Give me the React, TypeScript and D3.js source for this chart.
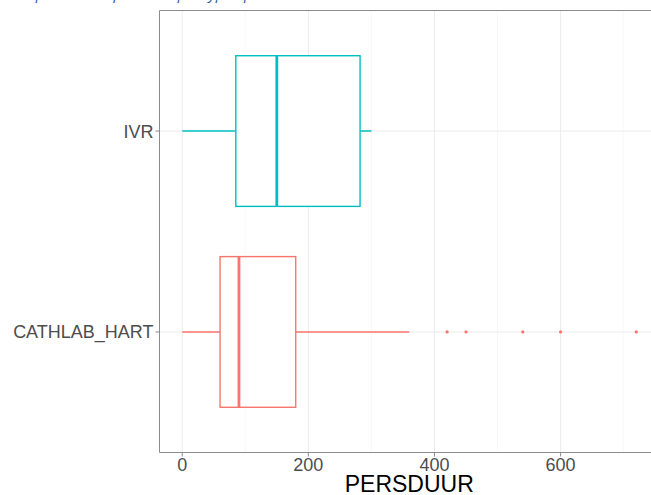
import React from "react";
import * as d3 from "d3";

const categories = ["CATHLAB_HART", "IVR"];
const mins = [0, 0];
const q1s = [60, 85];
const medians = [90, 150];
const q3s = [180, 282];
const maxs = [360, 300];
const outliers = [[420, 450, 540, 600, 720], []];
const colors = ["#F8766D", "#00BFC4"];
const xTicks = [0, 200, 400, 600];
const xMinor = [100, 300, 500, 700];
const captionText = "Afbeelding 7: Boxplot van de persduur per type opname";

const W = 651;
const H = 495;
const panel = { left: 159.5, top: 10.5, right: 659, bottom: 452.5 };

export default function App() {
  const x = d3.scaleLinear().domain([-36, 756]).range([panel.left, panel.right]);
  const y = d3.scaleLinear().domain([0.4, 2.6]).range([panel.bottom, panel.top]);
  const boxH = (y(0) - y(0.75));
  const font = "'Liberation Sans', Arial, sans-serif";

  return (
    <svg width={W} height={H} style={{ position: "fixed", left: 0, top: 0, background: "#fff" }}>
      <defs>
        <clipPath id="pclip">
          <rect x={panel.left} y={panel.top} width={panel.right - panel.left} height={panel.bottom - panel.top} />
        </clipPath>
      </defs>
      <text x={-78} y={-1.5} fontFamily="'Open Sans', sans-serif" fontStyle="italic" fontSize={15} fill="#2F5597">
        {captionText}
      </text>
      <g clipPath="url(#pclip)">
        {xMinor.map((v) => (
          <line key={"mn" + v} x1={x(v)} x2={x(v)} y1={panel.top} y2={panel.bottom} stroke="#F4F4F4" strokeWidth={0.6} />
        ))}
        {xTicks.map((v) => (
          <line key={"mj" + v} x1={x(v)} x2={x(v)} y1={panel.top} y2={panel.bottom} stroke="#EBEBEB" strokeWidth={1} />
        ))}
        {categories.map((c, i) => (
          <line key={"hg" + c} x1={panel.left} x2={panel.right} y1={y(i + 1)} y2={y(i + 1)} stroke="#EBEBEB" strokeWidth={1} />
        ))}
        {categories.map((c, i) => {
          const cy = y(i + 1);
          const col = colors[i];
          return (
            <g key={c}>
              <line x1={x(mins[i])} x2={x(q1s[i])} y1={cy} y2={cy} stroke={col} strokeWidth={1.4} />
              <line x1={x(q3s[i])} x2={x(maxs[i])} y1={cy} y2={cy} stroke={col} strokeWidth={1.4} />
              <rect x={x(q1s[i])} y={cy - boxH / 2} width={x(q3s[i]) - x(q1s[i])} height={boxH} fill="#fff" stroke={col} strokeWidth={1.4} />
              <line x1={x(medians[i])} x2={x(medians[i])} y1={cy - boxH / 2} y2={cy + boxH / 2} stroke={col} strokeWidth={2.8} />
              {outliers[i].map((o, k) => (
                <circle key={k} cx={x(o)} cy={cy} r={1.6} fill={col} />
              ))}
            </g>
          );
        })}
      </g>
      {/* panel border */}
      <line x1={panel.left} x2={panel.right} y1={panel.top} y2={panel.top} stroke="#8C8C8C" strokeWidth={1} />
      <line x1={panel.left} x2={panel.left} y1={panel.top} y2={panel.bottom} stroke="#8C8C8C" strokeWidth={1} />
      <line x1={panel.left} x2={panel.right} y1={panel.bottom} y2={panel.bottom} stroke="#8C8C8C" strokeWidth={1} />
      {/* y ticks */}
      {categories.map((c, i) => (
        <g key={"yt" + c}>
          <line x1={panel.left - 4} x2={panel.left} y1={y(i + 1)} y2={y(i + 1)} stroke="#8C8C8C" strokeWidth={1} />
          <text x={panel.left - 6} y={y(i + 1)} dy="0.36em" textAnchor="end" fontFamily={font} fontSize={18} fill="#4D4D4D">
            {c}
          </text>
        </g>
      ))}
      {/* x ticks */}
      {xTicks.map((v) => (
        <g key={"xt" + v}>
          <line x1={x(v)} x2={x(v)} y1={panel.bottom} y2={panel.bottom + 4} stroke="#8C8C8C" strokeWidth={1} />
          <text x={x(v)} y={471} textAnchor="middle" fontFamily={font} fontSize={18} fill="#4D4D4D">
            {d3.format("d")(v)}
          </text>
        </g>
      ))}
      <text x={(panel.left + panel.right) / 2} y={491.5} textAnchor="middle" fontFamily={font} fontSize={23} fill="#000">
        PERSDUUR
      </text>
    </svg>
  );
}
